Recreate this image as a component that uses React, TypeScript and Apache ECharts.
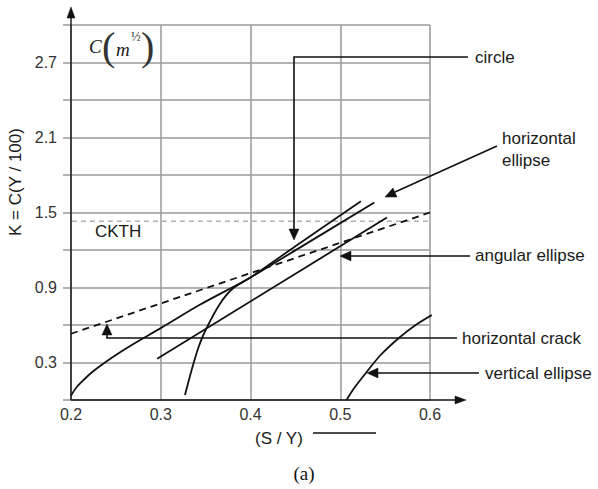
import React, { useEffect, useRef } from "react";
import * as echarts from "echarts";

// ---- data ----
const horizontalEllipse: [number, number][] = [
  [0.2, 0.035], [0.206, 0.1], [0.214, 0.16], [0.223, 0.22], [0.234, 0.28],
  [0.25, 0.36], [0.27, 0.45], [0.3, 0.575], [0.343, 0.76], [0.4, 0.98],
  [0.454, 1.215], [0.538, 1.58],
];
const circle: [number, number][] = [
  [0.327, 0.04], [0.331, 0.15], [0.336, 0.28], [0.342, 0.42], [0.35, 0.56],
  [0.366, 0.77], [0.38, 0.89], [0.4, 0.98], [0.45, 1.23], [0.523, 1.59],
];
const angularEllipse: [number, number][] = [[0.296, 0.33], [0.552, 1.46]];
const horizontalCrack: [number, number][] = [[0.2, 0.53], [0.6, 1.5]];
const verticalEllipse: [number, number][] = [
  [0.507, 0], [0.515, 0.09], [0.529, 0.22], [0.545, 0.36], [0.566, 0.5],
  [0.584, 0.6], [0.602, 0.68],
];
const ckth: [number, number][] = [[0.191, 1.43], [0.603, 1.43]];
const yTickLabels = ["0.3", "0.9", "1.5", "2.1", "2.7"];

const FONT = "Liberation Sans, Arial, sans-serif";
const SERIF = "Liberation Serif, Times New Roman, serif";
const INK = "#111";

export default function App() {
  const ref = useRef<HTMLDivElement>(null);
  useEffect(() => {
    if (!ref.current) return;
    const chart = echarts.init(ref.current, undefined, { renderer: "svg" });
    const lineSeries = (name: string, data: [number, number][], extra: any = {}) => ({
      name,
      type: "line",
      data,
      showSymbol: false,
      symbol: "none",
      smooth: 0.3,
      lineStyle: { color: INK, width: 1.8 },
      z: 5,
      ...extra,
    });
    const txt = (text: string, x: number, y: number, extra: any = {}) => ({
      type: "text",
      x,
      y,
      z: 10,
      style: {
        text,
        fill: "#1a1a1a",
        font: `17px ${FONT}`,
        verticalAlign: "middle",
        align: "left",
        ...extra,
      },
    });
    const pl = (points: number[][], extra: any = {}) => ({
      type: "polyline",
      z: 10,
      shape: { points },
      style: { stroke: INK, lineWidth: 1.6, fill: "none", ...extra },
    });
    const tri = (points: number[][]) => ({
      type: "polygon",
      z: 10,
      shape: { points },
      style: { fill: INK, stroke: INK, lineWidth: 0.5 },
    });
    chart.setOption({
      animation: false,
      backgroundColor: "#fff",
      grid: { left: 71, right: 168, top: 25, bottom: 89, containLabel: false },
      xAxis: {
        type: "value",
        min: 0.2,
        max: 0.6,
        interval: 0.1,
        axisLine: { show: false },
        axisTick: { show: false },
        splitLine: { show: true, lineStyle: { color: "#9a9a9a", width: 1.5 } },
        axisLabel: {
          fontSize: 16,
          fontFamily: FONT,
          color: "#333",
          margin: 6,
          formatter: (v: number) => v.toFixed(1),
        },
      },
      yAxis: {
        type: "value",
        min: 0,
        max: 3,
        interval: 0.3,
        axisLine: { show: false },
        axisTick: { show: true, length: 8, lineStyle: { color: "#9a9a9a", width: 1.5 } },
        splitLine: { show: true, lineStyle: { color: "#9a9a9a", width: 1.5 } },
        axisLabel: {
          fontSize: 16,
          fontFamily: FONT,
          color: "#333",
          margin: 14,
          formatter: (v: number) => {
            const s = v.toFixed(1);
            return yTickLabels.includes(s) ? s : "";
          },
        },
      },
      series: [
        lineSeries("CKTH", ckth, {
          smooth: false,
          clip: false,
          z: 3,
          lineStyle: { color: "#b0b0b0", width: 1.5, type: [5, 4] },
        }),
        lineSeries("horizontal ellipse", horizontalEllipse),
        lineSeries("circle", circle),
        lineSeries("angular ellipse", angularEllipse, { smooth: false }),
        lineSeries("horizontal crack", horizontalCrack, {
          smooth: false,
          lineStyle: { color: INK, width: 1.8, type: [7, 5] },
        }),
        lineSeries("vertical ellipse", verticalEllipse),
      ],
      graphic: [
        // axes with arrows
        pl([[71, 400], [71, 14]], { lineWidth: 1.4 }),
        tri([[71, 7], [67, 18], [75, 18]]),
        pl([[71, 400], [458, 400]], { lineWidth: 1.4 }),
        tri([[466, 400], [455, 396], [455, 404]]),
        // axis titles
        {
          type: "text",
          x: 15,
          y: 182,
          rotation: Math.PI / 2,
          style: {
            text: "K = C(Y / 100)",
            fill: "#1a1a1a",
            font: `17px ${FONT}`,
            align: "center",
            verticalAlign: "middle",
          },
        },
        txt("(S / Y)", 255, 438),
        pl([[313, 433], [376, 433]], { lineWidth: 1.4 }),
        {
          type: "text",
          x: 304,
          y: 473,
          style: {
            text: "(a)",
            fill: "#111",
            font: `19px ${SERIF}`,
            align: "center",
            verticalAlign: "middle",
          },
        },
        // C(m^1/2) unit
        txt("C", 89, 46, { font: `italic 19px ${SERIF}` }),
        txt("(", 102, 46, { font: `40px ${SERIF}`, fill: "#333" }),
        txt("m", 116, 49, { font: `italic 19px ${SERIF}` }),
        txt("½", 131, 36, { font: `13px ${SERIF}` }),
        txt(")", 141, 46, { font: `40px ${SERIF}`, fill: "#333" }),
        // CKTH
        txt("CKTH", 95, 231),
        // circle annotation
        txt("circle", 475, 57),
        pl([[468, 57], [294, 57], [294, 230]]),
        tri([[294, 240], [289, 229], [299, 229]]),
        // horizontal ellipse
        txt("horizontal", 502, 138),
        txt("ellipse", 502, 160),
        pl([[497, 146], [395, 192]]),
        tri([[385, 197], [397, 197], [393, 188]]),
        // angular ellipse
        txt("angular ellipse", 475, 255),
        pl([[470, 256], [349, 256]]),
        tri([[340, 256], [351, 251], [351, 261]]),
        // horizontal crack
        txt("horizontal crack", 462, 338),
        pl([[457, 338], [107, 338], [107, 333]]),
        tri([[107, 324], [102, 335], [112, 335]]),
        // vertical ellipse
        txt("vertical ellipse", 485, 373),
        pl([[479, 373], [376, 373]]),
        tri([[367, 373], [378, 368], [378, 378]]),
      ],
    });
    return () => chart.dispose();
  }, []);
  return (
    <div
      ref={ref}
      style={{ position: "fixed", left: 0, top: 0, width: 598, height: 489 }}
    />
  );
}
